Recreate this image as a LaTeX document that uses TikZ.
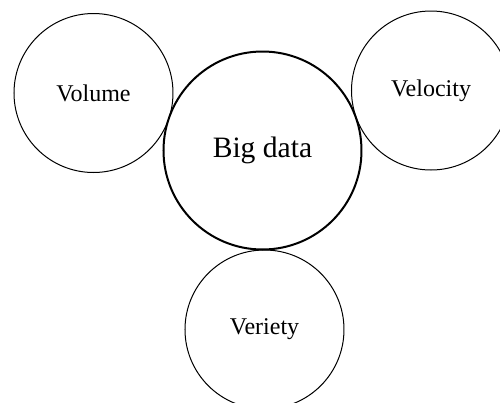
\documentclass[tikz,border=0pt]{standalone}
\usepackage{fontspec}
\setmainfont{Liberation Serif}
\usepackage{tikz}
\usetikzlibrary{positioning}

\begin{document}
\begin{tikzpicture}[x=0.5pt, y=-0.5pt,
    bubble/.style={draw, circle, inner sep=0pt, line width=0.5pt, minimum size=79.5pt, font=\fontsize{12}{14}\selectfont},
    core/.style={bubble, line width=1pt, minimum size=99pt, font=\fontsize{14.8}{17}\selectfont}]
    \useasboundingbox (0,0) rectangle (500,403);

    \node[core] (bigdata) at (262.5,150.5) {Big data};
    \node[bubble] (volume) at (93.5,93) {Volume};
    \node[bubble] (velocity) at (431,90.5) {Velocity};
    \node[bubble] (veriety) at (264.5,329.5) {Veriety};
\end{tikzpicture}
\end{document}
